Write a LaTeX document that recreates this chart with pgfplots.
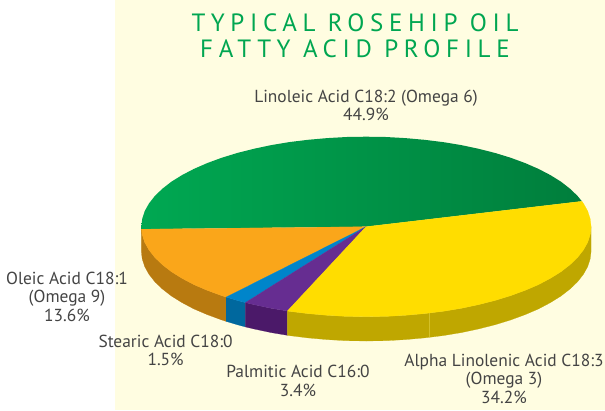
\documentclass[border=0pt]{standalone}
\usepackage{pgfplots}
\pgfplotsset{compat=1.18}
\usepackage{fontspec}
\setmainfont{PT Sans}
\newfontfamily\titlefont[LetterSpace=22.7]{PT Sans}
\definecolor{bg}{RGB}{255,253,225}
\definecolor{titlec}{RGB}{0,166,81}
\definecolor{labelc}{RGB}{68,68,68}
\definecolor{greenL}{RGB}{0,168,82}
\definecolor{greenR}{RGB}{0,126,60}
\definecolor{yel}{RGB}{255,221,0}
\definecolor{yelD}{RGB}{191,167,0}
\definecolor{ora}{RGB}{250,166,26}
\definecolor{oraD}{RGB}{184,122,16}
\definecolor{blu}{RGB}{0,133,202}
\definecolor{bluD}{RGB}{0,104,158}
\definecolor{pur}{RGB}{102,45,145}
\definecolor{purD}{RGB}{75,25,105}
\begin{document}
\begin{tikzpicture}
\begin{axis}[
  width=605pt,height=410pt,scale only axis,
  xmin=0,xmax=605,ymin=0,ymax=410,y dir=reverse,
  axis lines=none,clip=true]
% paper
\addplot[fill=white,draw=none] coordinates {(0,0)(605,0)(605,410)(0,410)} --cycle;
\addplot[fill=bg,draw=none] coordinates {(115,0)(605,0)(605,410)(115,410)} --cycle;
% sides
\addplot[fill=oraD,draw=oraD,line width=0.2pt] coordinates {(141.3,226.7)(142.2,234.5)(144.7,242.3)(149.0,250.0)(154.9,257.5)(162.4,264.7)(171.4,271.7)(182.0,278.3)(193.9,284.6)(207.2,290.3)(221.6,295.6)(226.2,297.1)(226.2,321.4)(221.6,319.9)(207.2,314.6)(193.9,308.9)(182.0,302.6)(171.4,296.0)(162.4,289.0)(154.9,281.8)(149.0,274.3)(144.7,266.6)(142.2,258.8)(141.3,251.0)} --cycle;
\addplot[fill=bluD,draw=bluD,line width=0.2pt] coordinates {(226.2,297.1)(237.2,300.4)(245.4,302.6)(245.4,326.9)(237.2,324.7)(226.2,321.4)} --cycle;
\addplot[fill=purD,draw=purD,line width=0.2pt] coordinates {(245.4,302.6)(253.8,304.6)(271.2,308.3)(287.4,311.0)(287.4,335.3)(271.2,332.6)(253.8,328.9)(245.4,326.9)} --cycle;
\addplot[fill=yelD,draw=yelD,line width=0.2pt] coordinates {(287.4,311.0)(289.3,311.3)(308.0,313.6)(327.2,315.3)(346.6,316.4)(366.2,316.7)(385.8,316.4)(405.3,315.3)(424.4,313.6)(443.1,311.3)(461.3,308.3)(478.7,304.6)(495.2,300.4)(510.8,295.6)(525.2,290.3)(538.5,284.6)(550.4,278.3)(561.0,271.7)(570.0,264.7)(577.5,257.5)(583.4,250.0)(587.7,242.3)(590.2,234.5)(591.1,226.7)(591.1,251.0)(590.2,258.8)(587.7,266.6)(583.4,274.3)(577.5,281.8)(570.0,289.0)(561.0,296.0)(550.4,302.6)(538.5,308.9)(525.2,314.6)(510.8,319.9)(495.2,324.7)(478.7,328.9)(461.3,332.6)(443.1,335.6)(424.4,337.9)(405.3,339.6)(385.8,340.7)(366.2,341.0)(346.6,340.7)(327.2,339.6)(308.0,337.9)(289.3,335.6)(287.4,335.3)} --cycle;
\addplot[draw={rgb,255:red,212;green,192;blue,40},line width=0.5pt] coordinates {(429.3,313.1)(429.3,337.4)};
% top: Linoleic 44.9
\addplot[left color=greenL,right color=greenR,draw=none] coordinates {(581.9,201.3)(577.5,195.9)(570.0,188.7)(561.0,181.7)(550.4,175.1)(538.5,168.9)(525.2,163.1)(510.8,157.8)(495.2,153.0)(478.7,148.8)(461.3,145.1)(443.1,142.1)(424.4,139.8)(405.3,138.1)(385.8,137.0)(366.2,136.7)(346.6,137.0)(327.2,138.1)(308.0,139.8)(289.3,142.1)(271.2,145.1)(253.8,148.8)(237.2,153.0)(221.6,157.8)(207.2,163.1)(193.9,168.9)(182.0,175.1)(171.4,181.7)(162.4,188.7)(154.9,195.9)(149.0,203.4)(144.7,211.1)(142.2,218.9)(141.3,226.7)(141.4,229.2)(366,226.7)} --cycle;
% Oleic 13.6
\addplot[fill=ora,draw=ora,line width=0.2pt] coordinates {(366,226.7)(141.4,229.2)(142.2,234.5)(144.7,242.3)(149.0,250.0)(154.9,257.5)(162.4,264.7)(171.4,271.7)(182.0,278.3)(193.9,284.6)(207.2,290.3)(221.6,295.6)(226.2,297.1)} --cycle;
% Stearic 1.5
\addplot[fill=blu,draw=blu,line width=0.2pt] coordinates {(366,226.7)(226.2,297.1)(237.2,300.4)(245.4,302.6)} --cycle;
% Palmitic 3.4
\addplot[fill=pur,draw=pur,line width=0.2pt] coordinates {(366,226.7)(245.4,302.6)(253.8,304.6)(271.2,308.3)(287.4,311.0)} --cycle;
% Alpha Linolenic 34.2
\addplot[fill=yel,draw=yel,line width=0.2pt] coordinates {(366,226.7)(287.4,311.0)(289.3,311.3)(308.0,313.6)(327.2,315.3)(346.6,316.4)(366.2,316.7)(385.8,316.4)(405.3,315.3)(424.4,313.6)(443.1,311.3)(461.3,308.3)(478.7,304.6)(495.2,300.4)(510.8,295.6)(525.2,290.3)(538.5,284.6)(550.4,278.3)(561.0,271.7)(570.0,264.7)(577.5,257.5)(583.4,250.0)(587.7,242.3)(590.2,234.5)(591.1,226.7)(590.2,218.9)(587.7,211.1)(583.4,203.4)(581.9,201.3)} --cycle;
% title and labels
\node[text=titlec,font=\titlefont\fontsize{25}{26}\selectfont,align=center] at (axis cs:355,36) {TYPICAL ROSEHIP OIL\\[0pt]FATTY ACID PROFILE};
\tikzset{lab/.style={text=labelc,font=\fontsize{17.4}{18.5}\selectfont,align=center,inner sep=0pt}}
\node[lab] at (axis cs:366,105.5) {Linoleic Acid C18:2 (Omega 6)\\44.9\%};
\node[lab] at (axis cs:67,296.5) {Oleic Acid C18:1\\(Omega 9)\\13.6\%};
\node[lab] at (axis cs:165.6,350.5) {Stearic Acid C18:0\\1.5\%};
\node[lab] at (axis cs:298,381) {Palmitic Acid C16:0\\3.4\%};
\node[lab] at (axis cs:504,378.5) {Alpha Linolenic Acid C18:3\\(Omega 3)\\34.2\%};
\end{axis}
\end{tikzpicture}
\end{document}
